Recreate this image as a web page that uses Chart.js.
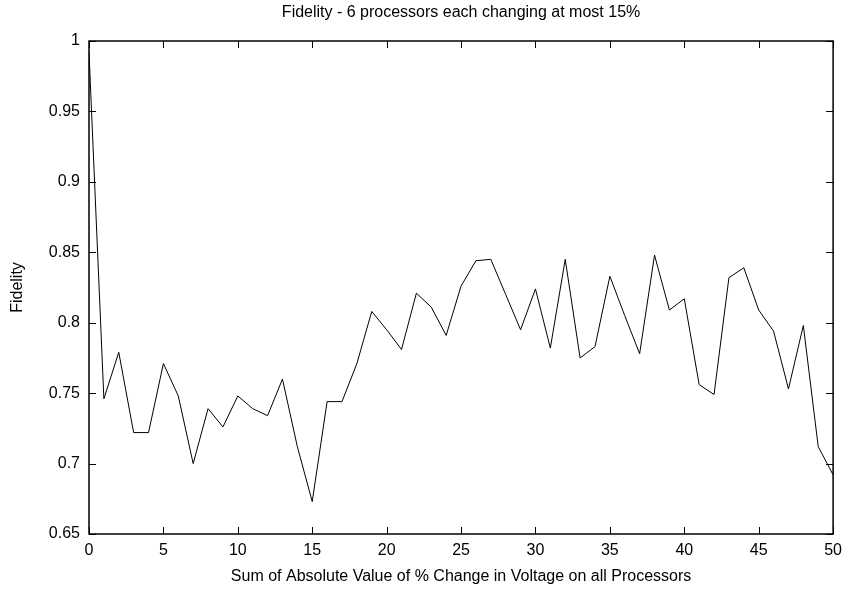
<!DOCTYPE html>
<html>
<head>
<meta charset="utf-8">
<script src="https://cdn.jsdelivr.net/npm/chart.js@4/dist/chart.umd.min.js"></script>
<style>
  html, body { margin: 0; padding: 0; background: #fff; }
  #wrap { width: 849px; height: 590px; position: relative; }
</style>
</head>
<body>
<div id="wrap"><canvas id="c" width="849" height="590"></canvas></div>
<script>
const chartTitle = "Fidelity - 6 processors each changing at most 15%";
const xAxisTitle = "Sum of Absolute Value of % Change in Voltage on all Processors";
const yAxisTitle = "Fidelity";

const changeSum = [0,1,2,3,4,5,6,7,8,9,10,11,12,13,14,15,16,17,18,19,20,21,22,23,24,25,
  26,27,28,29,30,31,32,33,34,35,36,37,38,39,40,41,42,43,44,45,46,47,48,49,50];
const fidelity = [0.992,0.746,0.779,0.722,0.722,0.771,0.748,0.700,0.739,0.726,0.748,
  0.739,0.734,0.760,0.712,0.673,0.744,0.744,0.771,0.808,0.795,0.781,0.821,0.811,0.791,
  0.826,0.844,0.845,0.820,0.795,0.824,0.782,0.845,0.775,0.783,0.833,0.805,0.778,0.848,
  0.809,0.817,0.756,0.749,0.832,0.839,0.809,0.794,0.753,0.798,0.712,0.692];

const xTicks = [0,5,10,15,20,25,30,35,40,45,50];
const yTicks = [0.65,0.7,0.75,0.8,0.85,0.9,0.95,1];

const FONT = "'Liberation Sans Narrow', 'Liberation Sans', Arial, sans-serif";
const FS = 16;

const frameTicks = {
  id: 'frameTicks',
  afterDraw(chart) {
    const {ctx, chartArea: a, scales: {x, y}} = chart;
    const L = 7;
    ctx.save();
    ctx.strokeStyle = '#000';
    ctx.lineWidth = 1;
    ctx.beginPath();
    x.ticks.forEach(t => {
      const px = Math.round(x.getPixelForValue(t.value)) + 0.5;
      ctx.moveTo(px, a.bottom); ctx.lineTo(px, a.bottom - L);
      ctx.moveTo(px, a.top); ctx.lineTo(px, a.top + L);
    });
    y.ticks.forEach(t => {
      const py = Math.round(y.getPixelForValue(t.value)) + 0.5;
      ctx.moveTo(a.left, py); ctx.lineTo(a.left + L, py);
      ctx.moveTo(a.right, py); ctx.lineTo(a.right - L, py);
    });
    ctx.stroke();
    ctx.lineWidth = 1.5;
    ctx.strokeRect(a.left, a.top, a.right - a.left, a.bottom - a.top);
    ctx.restore();
  }
};

new Chart(document.getElementById('c'), {
  type: 'line',
  data: {
    datasets: [{
      data: changeSum.map((v, i) => ({x: v, y: fidelity[i]})),
      borderColor: '#000',
      borderWidth: 1,
      pointRadius: 0,
      tension: 0,
      fill: false,
      xAxisID: 'x',
      yAxisID: 'y'
    }]
  },
  options: {
    responsive: false,
    animation: false,
    devicePixelRatio: 1,
    layout: { padding: { left: 0, right: 13, top: 0, bottom: 0 } },
    plugins: {
      legend: { display: false },
      tooltip: { enabled: false },
      title: { display: false }
    },
    scales: {
      xTop: {
        type: 'linear',
        position: 'top',
        min: 0, max: 50,
        afterFit: s => { s.height = 41; },
        grid: { display: false, drawTicks: false },
        border: { display: false },
        ticks: { display: false },
        title: {
          display: true, text: chartTitle, color: '#000',
          font: { family: FONT, size: FS },
          padding: { top: 13 - FS * 0.6, bottom: 0 }
        }
      },
      x: {
        type: 'linear',
        position: 'bottom',
        min: 0, max: 50,
        afterBuildTicks: s => { s.ticks = xTicks.map(v => ({value: v})); },
        afterFit: s => { s.height = 56; },
        grid: { display: false, drawTicks: false },
        border: { display: false },
        ticks: {
          color: '#000', padding: 7, maxRotation: 0,
          font: { family: FONT, size: FS },
          callback: v => String(v)
        },
        title: {
          display: true, text: xAxisTitle, color: '#000',
          font: { family: FONT, size: FS },
          padding: { top: 0, bottom: 13 - FS * 0.6 }
        }
      },
      y: {
        type: 'linear',
        position: 'left',
        min: 0.65, max: 1,
        afterBuildTicks: s => { s.ticks = yTicks.map(v => ({value: v})); },
        afterFit: s => { s.width = 89; },
        grid: { display: false, drawTicks: false },
        border: { display: false },
        ticks: {
          color: '#000', padding: 9,
          font: { family: FONT, size: FS },
          callback: v => String(parseFloat(Number(v).toFixed(2)))
        },
        title: {
          display: true, text: yAxisTitle, color: '#000',
          font: { family: FONT, size: FS },
          padding: { top: 18 - FS * 0.6, bottom: 0 }
        }
      }
    }
  },
  plugins: [frameTicks]
});
</script>
</body>
</html>
